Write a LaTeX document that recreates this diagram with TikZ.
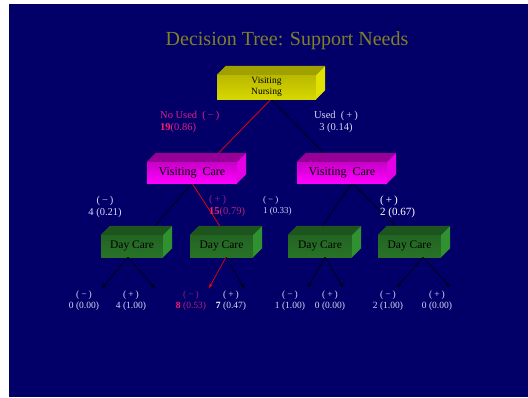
\documentclass[tikz,border=0pt]{standalone}
\usepackage{fontspec}
\setmainfont{Liberation Serif}
\usetikzlibrary{calc,arrows.meta}

\definecolor{navy}{RGB}{2,0,104}
\definecolor{titleolive}{RGB}{128,128,40}
\definecolor{lav}{RGB}{215,215,245}
\definecolor{hotpink}{RGB}{255,30,110}
\definecolor{rosepink}{RGB}{225,30,140}
\definecolor{dimpink}{RGB}{175,35,130}
\definecolor{dimpurple}{RGB}{140,30,140}

\pgfdeclarelayer{back}
\pgfdeclarelayer{mid}
\pgfsetlayers{back,mid,main}

% block with a top and a side face: name, position, width, style, text
\newcommand{\slab}[5]{%
  \node[#4, minimum width=#3] (#1) at (#2) {#5};
  \fill[#4 top] (#1.north west) -- ++(9pt,9pt) -- ([shift={(9pt,9pt)}]#1.north east) -- (#1.north east) -- cycle;
  \fill[#4 side] (#1.north east) -- ++(9pt,9pt) -- ([shift={(9pt,9pt)}]#1.south east) -- (#1.south east) -- cycle;
}
\newcommand{\mn}{(\kern2pt−\kern2pt)}
\newcommand{\pl}{(\kern2pt+\kern2pt)}

\begin{document}
\begin{tikzpicture}[x=1pt, y=-1pt,
    nurse node/.style={minimum height=24pt, inner sep=0pt, align=center, font=\fontsize{9.5}{11}\selectfont,
      top color={rgb,255:red,185;green,185;blue,0}, middle color=yellow, bottom color={rgb,255:red,215;green,215;blue,0}},
    nurse node top/.style={fill={rgb,255:red,160;green,160;blue,0}},
    nurse node side/.style={fill={rgb,255:red,225;green,225;blue,0}},
    care node/.style={minimum height=21pt, inner sep=0pt, font=\fontsize{12}{14}\selectfont,
      top color={rgb,255:red,200;green,0;blue,200}, bottom color={rgb,255:red,255;green,0;blue,255}},
    care node top/.style={fill={rgb,255:red,150;green,0;blue,150}},
    care node side/.style={fill={rgb,255:red,230;green,0;blue,230}},
    day node/.style={minimum height=22pt, inner sep=0pt, font=\fontsize{11.5}{13}\selectfont,
      top color={rgb,255:red,35;green,100;blue,35}, middle color={rgb,255:red,48;green,135;blue,48}, bottom color={rgb,255:red,40;green,115;blue,40}},
    day node top/.style={fill={rgb,255:red,30;green,85;blue,30}},
    day node side/.style={fill={rgb,255:red,48;green,145;blue,48}},
    lab/.style={font=\fontsize{10.5}{12}\selectfont, inner sep=0pt},
    leaf/.style={font=\fontsize{9.5}{11}\selectfont, inner sep=0pt, align=center, text=lav},
    edge/.style={line width=0.6pt},
    hot/.style={line width=0.7pt, red},
    arr/.style={line width=0.6pt, -{Stealth[length=5pt,width=3.5pt]}}]

    \useasboundingbox (0,0) rectangle (528,397);
    \begin{pgfonlayer}{back}
        \fill[navy] (8.5,4) rectangle (528,397);
    \end{pgfonlayer}

    \node[text=titleolive, font=\fontsize{20}{23}\selectfont] (title) at (287,41) {Decision Tree: Support Needs};

    % Blocks
    \slab{VN}{266.5,87}{99pt}{nurse node}{Visiting\\Nursing}
    \slab{VC1}{192,172.5}{90pt}{care node}{Visiting\enspace Care\hspace{10pt}}
    \slab{VC2}{342,172.5}{90pt}{care node}{Visiting\enspace Care\hspace{10pt}}
    \slab{DC1}{132,246}{62pt}{day node}{Day Care\hspace{6pt}}
    \slab{DC2}{221.5,246}{63pt}{day node}{Day Care\hspace{6pt}}
    \slab{DC3}{320,246}{64pt}{day node}{Day Care\hspace{6pt}}
    \slab{DC4}{409.5,246}{63pt}{day node}{Day Care\hspace{6pt}}

    % Edges behind the blocks
    \begin{pgfonlayer}{mid}
        \draw[hot] ($(VN.south)+(4.5,0)$) -- ($(VC1.north)+(18,0)$);
        \draw[edge] ($(VN.south)+(4.5,0)$) -- ($(VC2.north)+(-10,0)$);
        \draw[edge] (VC1.south) -- ($(DC1.north)+(15,0)$);
        \draw[hot] (VC1.south) -- ($(DC2.north)+(4,0)$);
        \draw[edge] ($(VC2.south)+(10,0)$) -- ($(DC3.north)+(-4,0)$);
        \draw[edge] ($(VC2.south)+(10,0)$) -- ($(DC4.north)+(-5.5,0)$);
    \end{pgfonlayer}

    % Leaves
    \coordinate (t1) at (102,288);
    \coordinate (t2) at (155,288);
    \coordinate (t3) at (209,288);
    \coordinate (t4) at (244,288);
    \coordinate (t5) at (308,287);
    \coordinate (t6) at (343,287);
    \coordinate (t7) at (397,287);
    \coordinate (t8) at (450,287);

    \draw[arr] ($(DC1.south)+(-4,0)$) -- (t1);
    \draw[arr] ($(DC1.south)+(-4,0)$) -- (t2);
    \draw[arr, red] ($(DC2.south)+(4.5,0)$) -- (t3);
    \draw[arr] ($(DC2.south)+(4.5,0)$) -- (t4);
    \draw[arr] ($(DC3.south)+(5,0)$) -- (t5);
    \draw[arr] ($(DC3.south)+(5,0)$) -- (t6);
    \draw[arr] ($(DC4.south)+(13.5,0)$) -- (t7);
    \draw[arr] ($(DC4.south)+(13.5,0)$) -- (t8);

    % Branch labels
    \node[lab, align=left, anchor=west, text=rosepink] (no1) at (160,122) {No Used\enspace\mn\\\textcolor{hotpink}{\textbf{19}}(0.86)};
    \node[lab, align=center, text=lav] (yes1) at (336,122) {Used\enspace\pl\\3 (0.14)};
    \node[lab, align=center, text=lav] (no2) at (105,207) {\mn\\4 (0.21)};
    \node[lab, align=left, anchor=west, text=dimpink] (yes2) at (209,206) {\textcolor{dimpurple}{\pl}\\\textcolor{hotpink}{\textbf{15}}(0.79)};
    \node[lab, align=left, anchor=west, text=lav, font=\fontsize{9}{11}\selectfont] (no3) at (263,206) {\mn\\1 (0.33)};
    \node[lab, align=left, anchor=west, text=white, font=\fontsize{11}{12}\selectfont] (yes3) at (380,207) {\pl\\2 (0.67)};

    \node[leaf] (n1) at (84,300.5) {\mn\\0 (0.00)};
    \node[leaf] (n2) at (131,300.5) {\pl\\4 (1.00)};
    \node[leaf, text=dimpink] (n3) at (191,300.5) {\textcolor{dimpurple}{\mn}\\\textcolor{hotpink}{\textbf{8}} (0.53)};
    \node[leaf] (n4) at (231,300.5) {\pl\\\textcolor{white}{\textbf{7}} (0.47)};
    \node[leaf] (n5) at (290,300.5) {\mn\\1 (1.00)};
    \node[leaf] (n6) at (330,300.5) {\pl\\0 (0.00)};
    \node[leaf] (n7) at (388,300.5) {\mn\\2 (1.00)};
    \node[leaf] (n8) at (437,300.5) {\pl\\0 (0.00)};

\end{tikzpicture}
\end{document}
